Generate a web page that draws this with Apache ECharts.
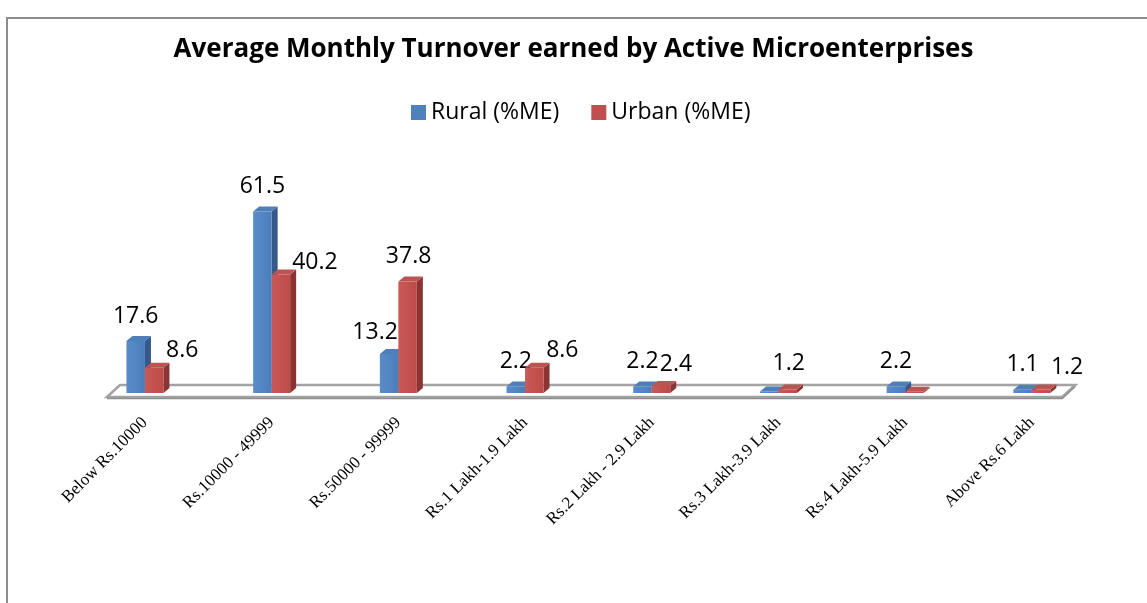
<!DOCTYPE html>
<html>
<head>
<meta charset="utf-8">
<script src="https://cdn.jsdelivr.net/npm/echarts@6/dist/echarts.min.js"></script>
<style>
    html, body { margin: 0; padding: 0; background: #fff; }
    #main { width: 1147px; height: 603px; }
</style>
</head>
<body>
<div id="main"></div>
<script>
var categories = ['Below Rs.10000', 'Rs.10000 - 49999', 'Rs.50000 - 99999', 'Rs.1 Lakh-1.9 Lakh',
    'Rs.2 Lakh - 2.9 Lakh', 'Rs.3 Lakh-3.9 Lakh', 'Rs.4 Lakh-5.9 Lakh', 'Above Rs.6 Lakh'];
var rural = [17.6, 61.5, 13.2, 2.2, 2.2, 0.5, 2.2, 1.1];
var urban = [8.6, 40.2, 37.8, 8.6, 2.4, 1.2, 0.4, 1.2];
var seriesNames = ['Rural (%ME)', 'Urban (%ME)'];
// labels that the original chart did not show
var ruralHidden = [5];
var urbanHidden = [6];

// label placement (dx, dy from the top of the front face), like the excel chart did
var ruralNudge = { def: [0, -25], 2: [-14, -22] };
var urbanNudge = { def: [28, -17], 1: [34, -12], 2: [1, -25], 4: [15, -21], 5: [1, -26], 7: [26, -22] };

var fontSans = '"Open Sans", "Noto Sans", sans-serif';

function barRender(side, col, nudge, hidden) {
    return function (params, api) {
        var i = api.value(0);
        var v = api.value(1);
        var base = api.coord([i, 0]);
        var top = api.coord([i, v]);
        var w = 18.5, d = 6, e = 5;
        var x0 = side === 0 ? base[0] - w : base[0];
        var y0 = top[1], y1 = base[1];
        var children = [
            {
                type: 'polygon',
                shape: { points: [[x0 + w, y0], [x0 + w + d, y0 - e], [x0 + w + d, y1 - e], [x0 + w, y1]] },
                style: { fill: col.side }
            },
            {
                type: 'rect',
                shape: { x: x0, y: y0, width: w, height: y1 - y0 },
                style: {
                    fill: new echarts.graphic.LinearGradient(0, 0, 1, 0, [
                        { offset: 0, color: col.light },
                        { offset: 1, color: col.front }
                    ])
                }
            },
            {
                type: 'polygon',
                shape: { points: [[x0, y0], [x0 + d, y0 - e], [x0 + w + d, y0 - e], [x0 + w, y0]] },
                style: { fill: col.top }
            }
        ];
        if (hidden.indexOf(i) < 0) {
            var n = nudge[i] || nudge.def;
            children.push({
                type: 'text',
                style: {
                    x: x0 + w / 2 + n[0],
                    y: y0 + n[1],
                    text: String(v),
                    fill: '#000',
                    font: '23px ' + fontSans,
                    align: 'center',
                    verticalAlign: 'middle'
                },
                z2: 10
            });
        }
        return { type: 'group', children: children };
    };
}

var blue = { front: '#4A7EBB', light: '#5A8CC8', side: '#34598A', top: '#4F7FB8' };
var red = { front: '#BE4B48', light: '#C95A57', side: '#8A3533', top: '#BB5552' };

var myChart = echarts.init(document.getElementById('main'));

var option = {
    animation: false,
    title: {
        text: 'Average Monthly Turnover earned by Active Microenterprises',
        left: 'center',
        top: 32,
        textStyle: { fontFamily: fontSans, fontSize: 26, fontWeight: 'bold', color: '#000' }
    },
    legend: {
        data: seriesNames,
        left: 406,
        top: 96,
        icon: 'rect',
        itemWidth: 15,
        itemHeight: 15,
        itemGap: 32,
        textStyle: { fontFamily: fontSans, fontSize: 23, color: '#000' }
    },
    grid: { left: 81.6, right: 51.8, top: 186.5, bottom: 210 },
    xAxis: {
        type: 'category',
        data: categories,
        axisLine: { show: false },
        axisTick: { show: false },
        axisLabel: {
            interval: 0,
            rotate: 45,
            margin: 27,
            fontFamily: '"Liberation Serif", serif',
            fontSize: 17,
            color: '#000'
        }
    },
    yAxis: {
        type: 'value',
        min: 0,
        max: 70,
        show: false
    },
    series: [
        {
            name: seriesNames[0],
            type: 'custom',
            itemStyle: { color: '#4F81BD' },
            renderItem: barRender(0, blue, ruralNudge, ruralHidden),
            encode: { x: 0, y: 1 },
            data: rural.map(function (v, i) { return [i, v]; }),
            z: 3
        },
        {
            name: seriesNames[1],
            type: 'custom',
            itemStyle: { color: '#C0504D' },
            renderItem: barRender(1, red, urbanNudge, urbanHidden),
            encode: { x: 0, y: 1 },
            data: urban.map(function (v, i) { return [i, v]; }),
            z: 4
        }
    ]
};
myChart.setOption(option);

// floor plate and chart frame
var first = myChart.convertToPixel({ xAxisIndex: 0 }, 0);
var last = myChart.convertToPixel({ xAxisIndex: 0 }, categories.length - 1);
var band = (last - first) / (categories.length - 1);
var y0 = myChart.convertToPixel({ yAxisIndex: 0 }, 0);
var L = first - 0.3 * band, R = last + 0.24 * band;
var fy = y0 + 4, by = y0 - 8, dd = 13;

myChart.setOption({
    graphic: [
        {
            type: 'polygon',
            z: 0,
            shape: { points: [[L, fy], [L + dd, by], [R + dd, by], [R, fy]] },
            style: { fill: '#fff', stroke: '#A3A3A3', lineWidth: 2.5 }
        },
        {
            type: 'polyline',
            z: 0,
            shape: { points: [[L, fy + 1.5], [R, fy + 1.5], [R + dd, by + 1.5]] },
            style: { fill: null, stroke: '#8E8E8E', lineWidth: 1.5 }
        },
        {
            type: 'polyline',
            z: 0,
            shape: { points: [[7, 603], [7, 18], [1147, 18]] },
            style: { fill: null, stroke: '#8C8C8C', lineWidth: 2 }
        }
    ]
});
</script>
</body>
</html>
